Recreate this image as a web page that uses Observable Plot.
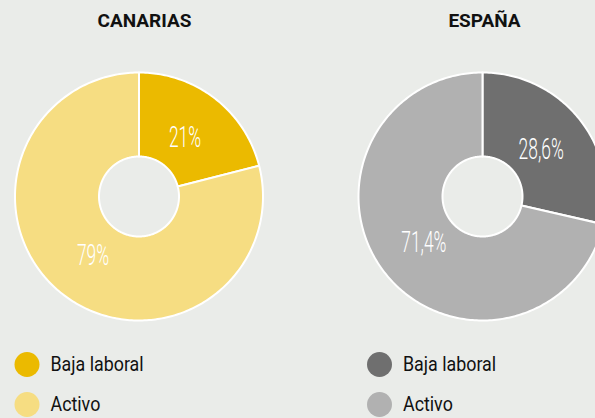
<!DOCTYPE html>
<html>
<head>
<meta charset="utf-8">
<script src="https://cdn.jsdelivr.net/npm/d3@7"></script>
<script src="https://cdn.jsdelivr.net/npm/@observablehq/plot@0.6"></script>
<style>
  html, body { margin: 0; padding: 0; background: #eaece9; }
  #chart { width: 595px; height: 418px; overflow: hidden; }
</style>
</head>
<body>
<div id="chart"></div>
<script>
// ---- Data ----
const regions = ["CANARIAS", "ESPAÑA"];
const categories = ["Baja laboral", "Activo"];
const canariasValues = [21, 79];
const espanaValues = [28.6, 71.4];
const canariasColors = ["#ebba00", "#f6dd82"];
const espanaColors = ["#6f6f6f", "#b1b1b1"];

// ---- Layout ----
const W = 595, H = 418;
const centers = [[138.5, 196], [482, 196]];
const outerR = 124, innerR = 40, labelR = 75;
const titleX = [144, 484], titleY = 20;
const legendX = [26.5, 379], legendY = [364, 404], legendTextDx = 23.5;

const seriesValues = [canariasValues, espanaValues];
const seriesColors = [canariasColors, espanaColors];

const slicePts = [];
const labels = [];
const legendRows = [];
regions.forEach((reg, i) => {
  const [cx, cy] = centers[i];
  let acc = 0;
  seriesValues[i].forEach((v, j) => {
    const a0 = acc / 100 * 2 * Math.PI;
    const a1 = (acc + v) / 100 * 2 * Math.PI;
    const id = reg + "-" + j;
    const color = seriesColors[i][j];
    const n = Math.max(2, Math.ceil((a1 - a0) / (Math.PI / 180)));
    const pts = [];
    for (let k = 0; k <= n; k++) {
      const t = a0 + (a1 - a0) * k / n;
      pts.push({x: cx + outerR * Math.sin(t), y: cy - outerR * Math.cos(t)});
    }
    for (let k = n; k >= 0; k--) {
      const t = a0 + (a1 - a0) * k / n;
      pts.push({x: cx + innerR * Math.sin(t), y: cy - innerR * Math.cos(t)});
    }
    pts.push(pts[0]);
    pts.forEach(p => slicePts.push({...p, id, color}));
    const am = (a0 + a1) / 2;
    labels.push({
      x: cx + labelR * Math.sin(am),
      y: cy - labelR * Math.cos(am),
      text: v.toLocaleString("es-ES") + "%"
    });
    acc += v;
    legendRows.push({x: legendX[i], y: legendY[j], color, text: categories[j]});
  });
});

const titles = regions.map((r, i) => ({x: titleX[i], y: titleY, text: r}));

const plot = Plot.plot({
  width: W,
  height: H,
  margin: 0,
  x: {domain: [0, W], range: [0, W], axis: null},
  y: {domain: [0, H], range: [0, H], axis: null},
  color: {type: "identity"},
  style: {background: "#eaece9", overflow: "hidden"},
  marks: [
    Plot.line(slicePts, {x: "x", y: "y", z: "id", fill: "color", stroke: "white", strokeWidth: 2, strokeLinejoin: "round"}),
    Plot.text(labels, {x: "x", y: "y", text: "text", fill: "white", fontSize: 29, fontWeight: 300, fontFamily: "Roboto"}),
    Plot.text(titles, {x: "x", y: "y", text: "text", fill: "#111", fontSize: 19, fontWeight: 700, fontFamily: "Roboto"}),
    Plot.dot(legendRows, {x: "x", y: "y", fill: "color", r: 12.5}),
    Plot.text(legendRows, {x: d => d.x + legendTextDx, y: "y", text: "text", textAnchor: "start", fill: "#111", fontSize: 20.5, fontFamily: "Roboto"})
  ]
});

document.getElementById("chart").appendChild(plot);

// condensed look: horizontal squeeze around each text's anchor point
function condense(t, s) {
  const tr = t.getAttribute("transform");
  if (tr && /translate/.test(tr)) {
    t.setAttribute("transform", tr + ` scale(${s},1)`);
  } else {
    const x = +(t.getAttribute("x") || 0), y = +(t.getAttribute("y") || 0);
    t.removeAttribute("x"); t.removeAttribute("y");
    t.setAttribute("transform", `translate(${x},${y}) scale(${s},1)` + (tr ? " " + tr : ""));
  }
}
const labelTexts = new Set(labels.map(d => d.text));
const legendTexts = new Set(categories);
plot.querySelectorAll("text").forEach(t => {
  const s = t.textContent.trim();
  if (labelTexts.has(s)) condense(t, 0.6);
  else if (legendTexts.has(s)) condense(t, 0.87);
});
</script>
</body>
</html>
